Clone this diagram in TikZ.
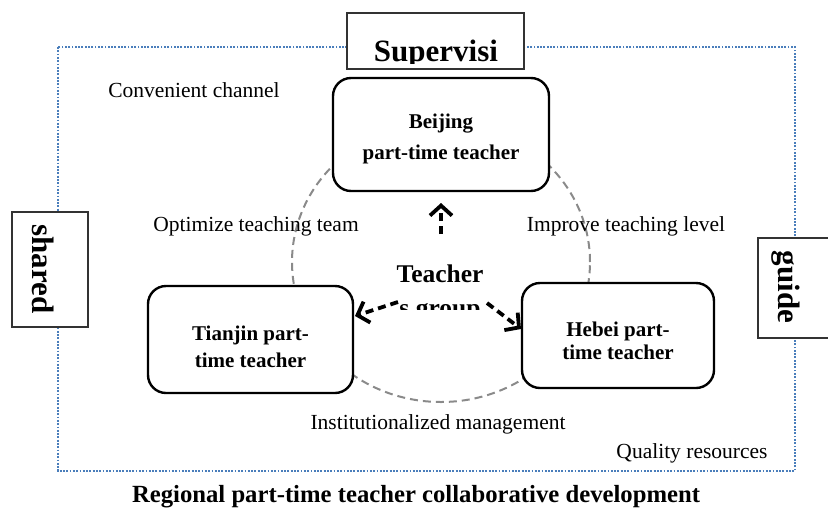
\documentclass[tikz,border=0pt]{standalone}
\usepackage{fontspec}
\setmainfont{Liberation Serif}
\usetikzlibrary{arrows.meta}
\definecolor{dotblue}{HTML}{4A7EBB}
\definecolor{ringgray}{HTML}{8A8A8A}
\begin{document}
\begin{tikzpicture}[x=1pt,y=-1pt,
  region/.style={draw=dotblue, line width=1.8pt, dash pattern=on 1.8pt off 1.5pt},
  rbox/.style={draw=black, line width=2.4pt, rounded corners=18pt, fill=white, align=center,
    font=\fontsize{21}{27}\selectfont\bfseries, inner sep=0pt},
  tagbox/.style={draw=black!80, line width=1.3pt, fill=white, inner sep=0pt},
  tagtext/.style={font=\fontsize{31}{36}\selectfont\bfseries, inner sep=0pt},
  lbl/.style={font=\fontsize{21.5}{26}\selectfont, inner sep=0pt},
  grptext/.style={font=\fontsize{25.5}{30}\selectfont\bfseries, inner sep=0pt},
  flow/.style={line width=3.8pt, dash pattern=on 8pt off 5pt,
    -{Straight Barb[length=10pt,width=22pt]}},
  ring/.style={draw=ringgray, line width=2pt, dash pattern=on 8pt off 5pt}
]
\useasboundingbox (0,0) rectangle (828,515);

% outer dotted region
\draw[region] (58,47) rectangle (795,471);

% side / top tag boxes
\node[tagbox, minimum width=177pt, minimum height=56pt] (sup) at (435.5,41) {};
\begin{scope}
  \clip (349,15) rectangle (522,63);
  \node[tagtext, anchor=base] (suptext) at (436,61) {Supervisi};
\end{scope}
\node[tagbox, minimum width=76pt, minimum height=115pt] (shr) at (50,269.5) {};
\node[tagtext, rotate=-90] (shrtext) at (43,269) {shared};
\node[tagbox, minimum width=72pt, minimum height=100pt] (gde) at (794,288) {};
\node[tagtext, rotate=-90] (gdetext) at (786,287) {guide};

% dashed ring
\draw[ring] (441,262) ellipse [x radius=149pt, y radius=140pt];

% rounded boxes
\node[rbox, minimum width=216pt, minimum height=113pt, font=\fontsize{21}{31}\selectfont\bfseries] (bj) at (441,134.5) {\rule{0pt}{24pt}Beijing\\part-time teacher};
\node[rbox, minimum width=205pt, minimum height=107pt] (tj) at (250.5,339.5) {\rule{0pt}{29pt}Tianjin part-\\time teacher};
\node[rbox, minimum width=192pt, minimum height=105pt, font=\fontsize{21}{23}\selectfont\bfseries] (hb) at (618,335.5) {\rule{0pt}{25pt}Hebei part-\\time teacher};

% teachers group (clipped text)
\begin{scope}
  \clip (380,250) rectangle (500,309.5);
  \node[grptext, anchor=base] (grp) at (440,282) {Teacher};
  \node[grptext, anchor=base] (grp2) at (440,316) {s group};
\end{scope}

% arrows
\coordinate (upstart) at (441,234);
\coordinate (uptip) at (441,203);
\coordinate (lstart) at (398,302);
\coordinate (ltip) at (355,316);
\coordinate (rstart) at (487,303);
\coordinate (rtip) at (521,329);
\draw[flow] (upstart) -- (uptip);
\draw[flow] (lstart) -- (ltip);
\draw[flow] (rstart) -- (rtip);

% labels
\node[lbl] (conv) at (194,90) {Convenient channel};
\node[lbl] (opt) at (256,226) {Optimize teaching team};
\node[lbl] (imp) at (626,226) {Improve teaching level};
\node[lbl] (inst) at (438,424) {Institutionalized management};
\node[lbl] (qual) at (692,453) {Quality resources};
\node[font=\fontsize{24.7}{28}\selectfont\bfseries, inner sep=0pt] (title) at (416,497) {Regional part-time teacher collaborative development};
\end{tikzpicture}
\end{document}
